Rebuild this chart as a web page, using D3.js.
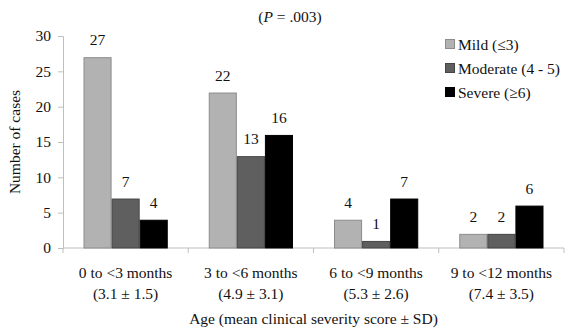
<!DOCTYPE html>
<html><head><meta charset="utf-8">
<script src="https://cdn.jsdelivr.net/npm/d3@7"></script>
<style>body{margin:0;background:#fff}svg{display:block}</style>
</head><body><svg id="c" width="574" height="332" font-family="Liberation Serif"></svg>
<script>
const categories = ["0 to <3 months","3 to <6 months","6 to <9 months","9 to <12 months"];
const subLabels = ["(3.1 \u00b1 1.5)","(4.9 \u00b1 3.1)","(5.3 \u00b1 2.6)","(7.4 \u00b1 3.5)"];
const seriesNames = ["Mild (\u22643)","Moderate (4 - 5)","Severe (\u22656)"];
const mild = [27,22,4,2];
const moderate = [7,13,1,2];
const severe = [4,16,7,6];
const yTicks = [0,5,10,15,20,25,30];
const colors = ["#b2b2b2","#5f5f5f","#000000"];
const strokes = ["#8c8c8c","#454545","#000000"];
const series = [mild, moderate, severe];

(function(){
const FF = "Liberation Serif";
const FS = 15.5;
const svg = d3.select("#c");
const mL = 63, mR = 564, mT = 36, mB = 248;
const x = d3.scaleBand().domain(categories).range([mL,mR]).paddingInner(0).paddingOuter(0);
const xs = d3.scaleBand().domain(seriesNames).range([0,x.bandwidth()]).paddingInner(0).paddingOuter(0.73);
const y = d3.scaleLinear().domain([0,30]).range([mB,mT]);

const ax = "#bfbfbf";
const yA = svg.append("g").attr("transform",`translate(${mL},0)`)
  .call(d3.axisLeft(y).tickValues(yTicks).tickSize(5).tickPadding(7));
yA.attr("font-family",FF).attr("font-size",FS);
yA.select(".domain").attr("stroke",ax);
yA.selectAll(".tick line").attr("stroke",ax);
yA.selectAll("text").attr("fill","#111");

const xA = svg.append("g").attr("transform",`translate(0,${mB})`);
xA.append("line").attr("x1",mL).attr("x2",mR).attr("y1",0).attr("y2",0).attr("stroke",ax);
const bounds = categories.map(c=>x(c)).concat([mR]);
xA.selectAll("line.t").data(bounds).join("line").attr("class","t")
  .attr("x1",d=>d).attr("x2",d=>d).attr("y1",0).attr("y2",5).attr("stroke",ax);

series.forEach((s,si)=>{
  const g = svg.append("g");
  g.selectAll("rect").data(s).join("rect")
    .attr("x",(d,i)=>x(categories[i])+xs(seriesNames[si])+0.5)
    .attr("y",d=>y(d)+0.5)
    .attr("width",xs.bandwidth()-1)
    .attr("height",d=>Math.max(0,mB-y(d)-0.5))
    .attr("fill",colors[si]).attr("stroke",strokes[si]).attr("stroke-width",1);
  g.selectAll("text").data(s).join("text")
    .attr("x",(d,i)=>x(categories[i])+xs(seriesNames[si])+xs.bandwidth()/2)
    .attr("y",d=>y(d)-12)
    .attr("text-anchor","middle").attr("font-size",FS).attr("fill","#111").text(d=>d);
});

svg.selectAll("text.cat").data(categories).join("text").attr("class","cat")
  .attr("x",d=>x(d)+x.bandwidth()/2).attr("y",278).attr("text-anchor","middle")
  .attr("font-size",FS).attr("fill","#111").text(d=>d);
svg.selectAll("text.sub").data(subLabels).join("text").attr("class","sub")
  .attr("x",(d,i)=>x(categories[i])+x.bandwidth()/2).attr("y",299).attr("text-anchor","middle")
  .attr("font-size",FS).attr("fill","#111").text(d=>d);

svg.append("text").attr("x",(mL+mR)/2).attr("y",324).attr("text-anchor","middle")
  .attr("font-size",FS).attr("fill","#111").text("Age (mean clinical severity score \u00b1 SD)");

svg.append("text").attr("transform",`translate(20,${(mT+mB)/2}) rotate(-90)`)
  .attr("text-anchor","middle").attr("font-size",FS).attr("fill","#111").text("Number of cases");

const t = svg.append("text").attr("x",290).attr("y",22).attr("text-anchor","middle").attr("font-size",FS).attr("fill","#111");
t.append("tspan").text("(");
t.append("tspan").attr("font-style","italic").text("P");
t.append("tspan").text(" = .003)");

const lg = svg.append("g").attr("transform","translate(445,45)");
seriesNames.forEach((n,i)=>{
  const r = lg.append("g").attr("transform",`translate(0,${i*24})`);
  r.append("rect").attr("x",0.5).attr("y",-5.5).attr("width",9).attr("height",9)
    .attr("fill",colors[i]).attr("stroke",strokes[i]);
  r.append("text").attr("x",13).attr("y",5).attr("font-size",FS).attr("fill","#111").text(n);
});
})();
</script></body></html>
